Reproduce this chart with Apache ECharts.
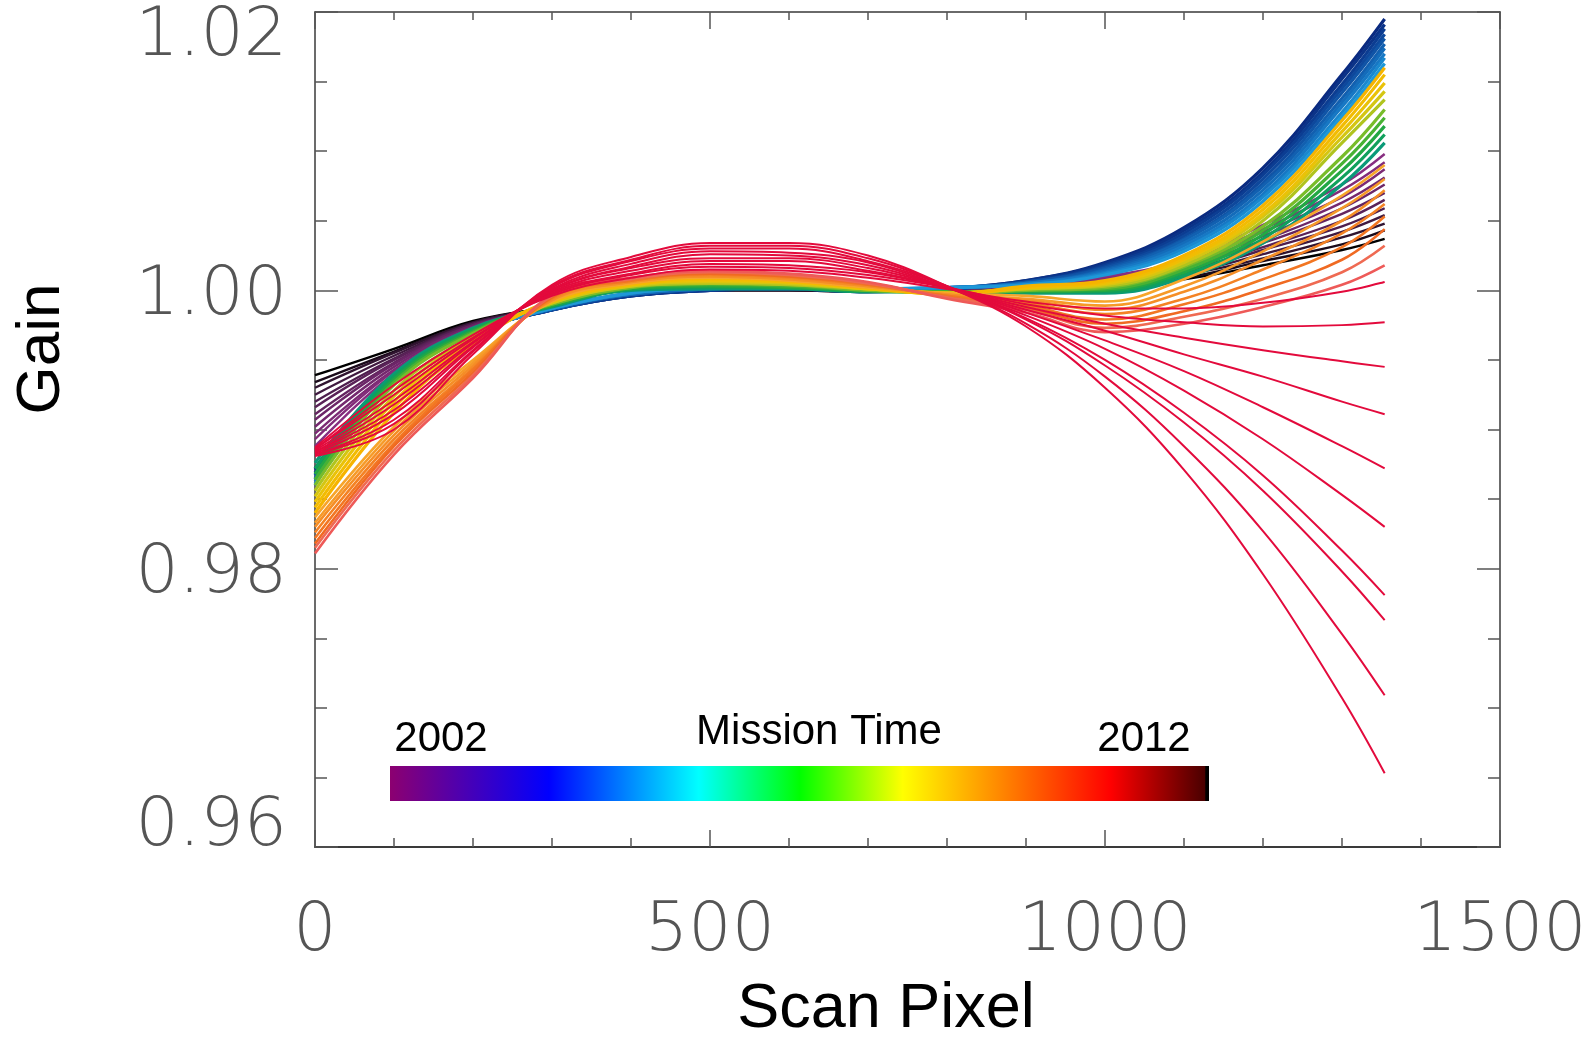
<!DOCTYPE html>
<html>
<head>
<meta charset="utf-8">
<title>Gain vs Scan Pixel</title>
<script src="https://cdn.jsdelivr.net/npm/echarts@6/dist/echarts.min.js"></script>
<style>
html, body { margin: 0; padding: 0; background: #ffffff; }
#chart { width: 1596px; height: 1037px; }
</style>
</head>
<body>
<div id="chart"></div>
<script>
// Scan pixel positions at which every gain curve is tabulated
const scanPixel = [0, 100, 200, 300, 400, 500, 600, 700, 800, 900, 1000, 1100, 1200, 1300, 1354];

// Earliest epochs (black through dark purple)
const gainEarly = [
  [0.9939,0.9958,0.9978,0.9988,0.9996,1.0000,1.0000,0.9999,1.0000,1.0000,1.0003,1.0008,1.0018,1.0029,1.0037],
  [0.9934,0.9956,0.9977,0.9988,0.9996,1.0000,1.0000,0.9999,1.0000,1.0000,1.0004,1.0009,1.0021,1.0033,1.0043],
  [0.9930,0.9955,0.9977,0.9988,0.9996,1.0000,1.0000,0.9999,1.0000,1.0001,1.0004,1.0011,1.0023,1.0038,1.0048],
  [0.9925,0.9953,0.9976,0.9987,0.9996,1.0000,1.0001,0.9999,1.0001,1.0001,1.0005,1.0012,1.0026,1.0042,1.0054],
  [0.9920,0.9951,0.9976,0.9987,0.9996,1.0000,1.0001,1.0000,1.0001,1.0001,1.0006,1.0013,1.0029,1.0046,1.0059],
  [0.9916,0.9950,0.9975,0.9987,0.9996,1.0000,1.0001,1.0000,1.0001,1.0002,1.0006,1.0014,1.0031,1.0050,1.0065],
  [0.9911,0.9948,0.9975,0.9987,0.9997,1.0001,1.0001,1.0000,1.0001,1.0002,1.0007,1.0016,1.0034,1.0055,1.0070],
  [0.9907,0.9947,0.9974,0.9987,0.9997,1.0001,1.0001,1.0000,1.0001,1.0003,1.0007,1.0017,1.0036,1.0059,1.0076],
  [0.9902,0.9945,0.9974,0.9987,0.9997,1.0001,1.0001,1.0000,1.0001,1.0003,1.0008,1.0018,1.0039,1.0063,1.0081],
  [0.9897,0.9943,0.9973,0.9986,0.9997,1.0001,1.0002,1.0001,1.0002,1.0003,1.0009,1.0019,1.0042,1.0067,1.0087],
  [0.9893,0.9942,0.9973,0.9986,0.9997,1.0001,1.0002,1.0001,1.0002,1.0004,1.0009,1.0021,1.0044,1.0072,1.0092],
  [0.9888,0.9940,0.9972,0.9986,0.9997,1.0001,1.0002,1.0001,1.0002,1.0004,1.0010,1.0022,1.0047,1.0076,1.0098]
];

// Blue epochs
const gainBlue = [
  [0.9872,0.9938,0.9970,0.9986,0.9996,1.0000,1.0001,0.9999,1.0001,1.0007,1.0020,1.0045,1.0088,1.0155,1.0195],
  [0.9871,0.9938,0.9970,0.9986,0.9996,1.0000,1.0001,0.9999,1.0001,1.0007,1.0019,1.0043,1.0085,1.0152,1.0191],
  [0.9869,0.9938,0.9970,0.9986,0.9996,1.0000,1.0001,0.9999,1.0001,1.0006,1.0018,1.0041,1.0083,1.0148,1.0188],
  [0.9868,0.9937,0.9970,0.9986,0.9997,1.0001,1.0002,1.0000,1.0001,1.0006,1.0017,1.0039,1.0080,1.0145,1.0184],
  [0.9867,0.9937,0.9970,0.9986,0.9997,1.0001,1.0002,1.0000,1.0001,1.0006,1.0016,1.0037,1.0077,1.0142,1.0181],
  [0.9865,0.9937,0.9969,0.9987,0.9997,1.0001,1.0002,1.0000,1.0002,1.0005,1.0015,1.0036,1.0075,1.0138,1.0177],
  [0.9864,0.9937,0.9969,0.9987,0.9997,1.0001,1.0002,1.0000,1.0002,1.0005,1.0014,1.0034,1.0072,1.0135,1.0174],
  [0.9863,0.9936,0.9969,0.9987,0.9998,1.0002,1.0003,1.0001,1.0002,1.0005,1.0013,1.0032,1.0069,1.0132,1.0170],
  [0.9861,0.9936,0.9969,0.9987,0.9998,1.0002,1.0003,1.0001,1.0002,1.0004,1.0012,1.0030,1.0067,1.0128,1.0167],
  [0.9860,0.9936,0.9969,0.9987,0.9998,1.0002,1.0003,1.0001,1.0002,1.0004,1.0011,1.0028,1.0064,1.0125,1.0163]
];

// Green through yellow epochs
const gainGreenYellow = [
  [0.9876,0.9940,0.9973,0.9988,1.0000,1.0001,1.0001,0.9999,0.9999,0.9998,0.9998,1.0009,1.0034,1.0076,1.0106],
  [0.9872,0.9938,0.9972,0.9989,1.0001,1.0002,1.0002,0.9999,0.9999,0.9999,0.9999,1.0011,1.0037,1.0081,1.0112],
  [0.9868,0.9936,0.9971,0.9989,1.0001,1.0003,1.0002,1.0000,0.9999,0.9999,1.0000,1.0013,1.0040,1.0086,1.0118],
  [0.9864,0.9934,0.9970,0.9990,1.0002,1.0004,1.0003,1.0000,0.9999,1.0000,1.0001,1.0015,1.0043,1.0091,1.0124],
  [0.9860,0.9932,0.9969,0.9990,1.0002,1.0005,1.0004,1.0000,0.9998,1.0000,1.0002,1.0017,1.0046,1.0096,1.0130],
  [0.9856,0.9928,0.9967,0.9991,1.0003,1.0005,1.0004,1.0001,0.9998,1.0001,1.0003,1.0018,1.0050,1.0106,1.0137],
  [0.9852,0.9924,0.9966,0.9991,1.0003,1.0006,1.0005,1.0001,0.9998,1.0001,1.0004,1.0020,1.0053,1.0110,1.0143],
  [0.9848,0.9920,0.9964,0.9992,1.0004,1.0007,1.0006,1.0001,0.9998,1.0002,1.0005,1.0022,1.0055,1.0114,1.0149],
  [0.9844,0.9916,0.9963,0.9992,1.0004,1.0008,1.0006,1.0002,0.9997,1.0002,1.0006,1.0023,1.0058,1.0118,1.0155],
  [0.9840,0.9912,0.9961,0.9993,1.0005,1.0009,1.0007,1.0002,0.9997,1.0003,1.0007,1.0025,1.0061,1.0122,1.0160]
];

// Orange epochs
const gainOrange = [
  [0.9837,0.9902,0.9950,0.9992,1.0005,1.0009,1.0007,1.0002,0.9998,0.9996,0.9992,1.0008,1.0035,1.0068,1.0090],
  [0.9833,0.9899,0.9948,0.9993,1.0006,1.0010,1.0008,1.0003,0.9997,0.9994,0.9989,1.0003,1.0028,1.0059,1.0080],
  [0.9830,0.9896,0.9946,0.9993,1.0006,1.0010,1.0008,1.0003,0.9997,0.9993,0.9986,0.9999,1.0022,1.0050,1.0072],
  [0.9826,0.9893,0.9944,0.9994,1.0007,1.0011,1.0009,1.0004,0.9996,0.9991,0.9983,0.9994,1.0015,1.0041,1.0062],
  [0.9822,0.9890,0.9943,0.9995,1.0007,1.0012,1.0010,1.0004,0.9996,0.9989,0.9979,0.9990,1.0008,1.0031,1.0053],
  [0.9818,0.9888,0.9941,0.9995,1.0008,1.0012,1.0010,1.0005,0.9995,0.9987,0.9976,0.9985,1.0001,1.0022,1.0044],
  [0.9815,0.9885,0.9939,0.9996,1.0008,1.0013,1.0011,1.0005,0.9995,0.9986,0.9973,0.9981,0.9994,1.0013,1.0032],
  [0.9811,0.9882,0.9937,0.9997,1.0009,1.0014,1.0012,1.0006,0.9994,0.9984,0.9970,0.9976,0.9988,1.0004,1.0018]
];

// Latest epochs (crimson fan)
const gainLate = [
  [0.9887,0.9932,0.9968,0.9996,1.0009,1.0015,1.0014,1.0009,1.0001,0.9992,0.9987,0.9987,0.9991,0.9999,1.0006],
  [0.9886,0.9928,0.9966,0.9997,1.0011,1.0017,1.0016,1.0011,1.0002,0.9990,0.9982,0.9977,0.9974,0.9975,0.9977],
  [0.9886,0.9925,0.9965,0.9998,1.0012,1.0019,1.0018,1.0013,1.0002,0.9988,0.9976,0.9966,0.9957,0.9949,0.9945],
  [0.9885,0.9921,0.9963,0.9999,1.0014,1.0021,1.0021,1.0014,1.0002,0.9986,0.9971,0.9954,0.9938,0.9920,0.9911],
  [0.9884,0.9918,0.9962,1.0000,1.0016,1.0023,1.0023,1.0016,1.0002,0.9984,0.9964,0.9942,0.9916,0.9888,0.9872],
  [0.9884,0.9914,0.9960,1.0000,1.0017,1.0026,1.0025,1.0018,1.0002,0.9982,0.9958,0.9928,0.9893,0.9853,0.9830],
  [0.9883,0.9911,0.9959,1.0001,1.0019,1.0028,1.0027,1.0020,1.0002,0.9980,0.9950,0.9912,0.9867,0.9813,0.9781],
  [0.9882,0.9907,0.9957,1.0002,1.0021,1.0030,1.0030,1.0021,1.0003,0.9979,0.9946,0.9905,0.9856,0.9798,0.9763],
  [0.9882,0.9904,0.9956,1.0003,1.0022,1.0032,1.0032,1.0023,1.0003,0.9976,0.9938,0.9888,0.9827,0.9753,0.9709],
  [0.9881,0.9900,0.9954,1.0004,1.0024,1.0034,1.0034,1.0025,1.0003,0.9974,0.9930,0.9871,0.9796,0.9707,0.9653]
];

// Colour-bar end labels
const yearLabels = ['2002', '2012'];

// Line colours per group
const colorsEarly = ['#000000','#1a0a1a','#301430','#401a40','#4e1e4e','#5a2258','#642460','#6c2668','#74286e','#7c2a74','#822c7a','#882e80'];
const colorsBlue = ['#0a2a80','#0b3388','#0c3d92','#0e489c','#1054a6','#1260b0','#146cba','#1778c4','#1a88ce','#1e98d8'];
const colorsGreenYellow = ['#0a9a78','#10a05c','#22a844','#48b234','#78bc2a','#b0c41e','#d4c612','#eac208','#f2bc02','#f6b400'];
const colorsOrange = ['#f7a52a','#f69a28','#f58e26','#f48224','#f27622','#f06a22','#ef6a52','#ee5a58'];
const colorLate = '#e30a3c';

const series = [];
function addGroup(rows, colorFor, width) {
  rows.forEach((row, i) => {
    series.push({
      type: 'line',
      data: scanPixel.map((x, k) => [x, row[k]]),
      showSymbol: false,
      symbol: 'none',
      smooth: 0.4,
      silent: true,
      lineStyle: { width: width, color: colorFor(i) }
    });
  });
}
addGroup(gainEarly, i => colorsEarly[i], 2.4);
addGroup(gainBlue, i => colorsBlue[i], 3.2);
addGroup(gainGreenYellow, i => colorsGreenYellow[i], 3.2);
addGroup(gainOrange, i => colorsOrange[i], 2.6);
addGroup(gainLate, () => colorLate, 2);

const tickFont = { fontFamily: '"DejaVu Sans"', fontWeight: 200, fontSize: 68, color: '#555555' };
const frameLine = { show: true, onZero: false, lineStyle: { color: '#3a3a3a', width: 1.5 } };

const chart = echarts.init(document.getElementById('chart'), null, { renderer: 'canvas' });
chart.setOption({
  animation: false,
  backgroundColor: '#ffffff',
  grid: { left: 315, top: 12, width: 1185, height: 835, outerBoundsMode: 'none', containLabel: false },
  xAxis: [
    {
      type: 'value', min: 0, max: 1500, interval: 500, position: 'bottom',
      axisLine: { show: true, onZero: false, lineStyle: { color: '#3a3a3a', width: 2 } },
      axisTick: { show: true, inside: true, length: 17, lineStyle: { color: '#555', width: 1.5 } },
      minorTick: { show: true, splitNumber: 5, length: 9, lineStyle: { color: '#555', width: 1.5 } },
      splitLine: { show: false },
      axisLabel: { show: true, margin: 51, ...tickFont, formatter: v => String(v) }
    },
    {
      type: 'value', min: 0, max: 1500, interval: 500, position: 'top',
      axisLine: frameLine,
      axisTick: { show: true, inside: true, length: 17, lineStyle: { color: '#555', width: 1.5 } },
      minorTick: { show: true, splitNumber: 5, length: 8, lineStyle: { color: '#555', width: 1.5 } },
      splitLine: { show: false },
      axisLabel: { show: false }
    }
  ],
  yAxis: [
    {
      type: 'value', min: 0.96, max: 1.02, interval: 0.02, position: 'left',
      axisLine: frameLine,
      axisTick: { show: true, inside: true, length: 23, lineStyle: { color: '#555', width: 1.5 } },
      minorTick: { show: true, splitNumber: 4, length: 12, lineStyle: { color: '#555', width: 1.5 } },
      splitLine: { show: false },
      axisLabel: {
        show: true, margin: 28, ...tickFont,
        formatter: v => {
          const s = v.toFixed(2);
          if (s === '1.02') return '{hi|1.02}';
          if (s === '0.96') return '{lo|0.96}';
          return '{mid|' + s + '}';
        },
        rich: {
          hi: { ...tickFont, padding: [50, 0, 0, 0] },
          mid: { ...tickFont, padding: [12, 0, 0, 0] },
          lo: { ...tickFont, padding: [0, 0, 40, 0] }
        }
      }
    },
    {
      type: 'value', min: 0.96, max: 1.02, interval: 0.02, position: 'right',
      axisLine: frameLine,
      axisTick: { show: true, inside: true, length: 23, lineStyle: { color: '#555', width: 1.5 } },
      minorTick: { show: true, splitNumber: 4, length: 12, lineStyle: { color: '#555', width: 1.5 } },
      splitLine: { show: false },
      axisLabel: { show: false }
    }
  ],
  series: series,
  graphic: [
    {
      type: 'text', x: 886, y: 1010, silent: true,
      style: { text: 'Scan Pixel', fontFamily: '"Liberation Sans", Arial, sans-serif', fontSize: 63, fill: '#000', align: 'center', verticalAlign: 'middle' }
    },
    {
      type: 'text', x: 42, y: 349, rotation: Math.PI / 2, silent: true,
      style: { text: 'Gain', fontFamily: '"Liberation Sans", Arial, sans-serif', fontSize: 62, fill: '#000', align: 'center', verticalAlign: 'middle' }
    },
    {
      type: 'rect', silent: true, z: 100,
      shape: { x: 390, y: 766, width: 819, height: 35 },
      style: {
        fill: new echarts.graphic.LinearGradient(0, 0, 1, 0, [
          { offset: 0, color: '#8c0070' },
          { offset: 0.194, color: '#0000ff' },
          { offset: 0.377, color: '#00ffff' },
          { offset: 0.501, color: '#00ff00' },
          { offset: 0.626, color: '#ffff00' },
          { offset: 0.88, color: '#ff0000' },
          { offset: 0.995, color: '#4a0000' },
          { offset: 0.996, color: '#000000' },
          { offset: 1, color: '#000000' }
        ])
      }
    },
    {
      type: 'text', x: 441, y: 739, silent: true, z: 100,
      style: { text: yearLabels[0], fontFamily: '"Liberation Sans", Arial, sans-serif', fontSize: 42, fill: '#000', align: 'center', verticalAlign: 'middle' }
    },
    {
      type: 'text', x: 819, y: 732, silent: true, z: 100,
      style: { text: 'Mission Time', fontFamily: '"Liberation Sans", Arial, sans-serif', fontSize: 42, fill: '#000', align: 'center', verticalAlign: 'middle' }
    },
    {
      type: 'text', x: 1144, y: 739, silent: true, z: 100,
      style: { text: yearLabels[1], fontFamily: '"Liberation Sans", Arial, sans-serif', fontSize: 42, fill: '#000', align: 'center', verticalAlign: 'middle' }
    }
  ]
});
</script>
</body>
</html>
